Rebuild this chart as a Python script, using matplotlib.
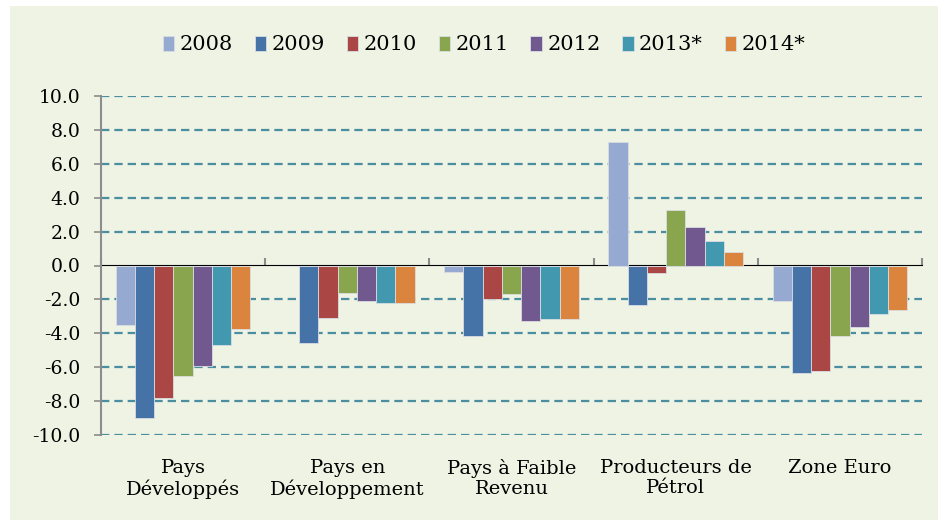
import numpy as np
import matplotlib
matplotlib.use('Agg')
import matplotlib.pyplot as plt
from matplotlib.patches import Rectangle

categories = ["Pays\nDéveloppés", "Pays en\nDéveloppement", "Pays à Faible\nRevenu",
              "Producteurs de\nPétrol", "Zone Euro"]
years = ["2008", "2009", "2010", "2011", "2012", "2013*", "2014*"]
colors = ['#95A9D1', '#4572A7', '#AA4643', '#89A54E', '#71588F', '#4198AF', '#DB843D']

# one list per year, values for the 5 groups
v2008 = [-3.5, 0.0, -0.4, 7.3, -2.1]
v2009 = [-9.0, -4.55, -4.15, -2.35, -6.35]
v2010 = [-7.8, -3.1, -2.0, -0.45, -6.2]
v2011 = [-6.5, -1.65, -1.7, 3.25, -4.15]
v2012 = [-5.9, -2.1, -3.25, 2.3, -3.6]
v2013 = [-4.7, -2.2, -3.15, 1.45, -2.85]
v2014 = [-3.75, -2.2, -3.15, 0.8, -2.6]
series = [v2008, v2009, v2010, v2011, v2012, v2013, v2014]

plt.rcParams['font.family'] = ['DejaVu Serif']
plt.rcParams['axes.unicode_minus'] = False
plt.rcParams['lines.scale_dashes'] = False

bg = '#EEF3E4'
fig = plt.figure(figsize=(9.38, 5.2), dpi=100, facecolor=bg)
# white strips at top and left of the chart area
fig.add_artist(Rectangle((0, 0), 10 / 938, 1, transform=fig.transFigure,
                         facecolor='white', edgecolor='none', zorder=-10))
fig.add_artist(Rectangle((0, 1 - 6 / 520), 1, 6 / 520, transform=fig.transFigure,
                         facecolor='white', edgecolor='none', zorder=-10))

ax = fig.add_axes([101 / 938, 1 - 435 / 520, 821 / 938, 339 / 520])
ax.set_facecolor('none')

x = np.arange(len(categories))
n = len(series)
w = 0.117
for i, (vals, col, yr) in enumerate(zip(series, colors, years)):
    ax.bar(x + (i - (n - 1) / 2) * w, vals, width=w, color=col, label=yr,
           edgecolor='#d9dde3', linewidth=0.6, zorder=3)

ax.set_xlim(-0.5, len(categories) - 0.5)
ax.set_ylim(-10, 10)
ax.set_yticks(np.arange(-10, 11, 2))
ax.yaxis.set_major_formatter(matplotlib.ticker.FormatStrFormatter('%.1f'))
ax.tick_params(axis='y', direction='out', length=5, width=1.2, color='#8c8c8c',
               labelsize=13.5, pad=10)
ax.set_xticks(x, categories)
ax.tick_params(axis='x', length=0, labelsize=14, pad=17)

for v in np.arange(-10, 11, 2):
    if v != 0:
        ax.axhline(v, color='#4A8EA0', linewidth=1.6, dashes=(6, 3.6), zorder=1)

for s in ['top', 'right', 'bottom']:
    ax.spines[s].set_visible(False)
ax.spines['left'].set_color('#8c8c8c')
ax.spines['left'].set_linewidth(1.5)

# zero axis with boundary ticks
sec = ax.secondary_xaxis(0.5)
sec.set_xticks(np.arange(-0.5, len(categories), 1.0))
sec.tick_params(direction='out', length=5, width=1.5, color='#8c8c8c',
                labelbottom=False, labeltop=False)
sec.spines['bottom'].set_color('#8c8c8c')
sec.spines['bottom'].set_linewidth(2)

fig.legend(loc='center', bbox_to_anchor=(484 / 938, 1 - 45 / 520), ncol=7, frameon=False,
           fontsize=15, handlelength=0.55, handleheight=0.75, handletextpad=0.25,
           columnspacing=1.05, borderpad=0)

fig.savefig('out.png', dpi=100, facecolor=bg)
